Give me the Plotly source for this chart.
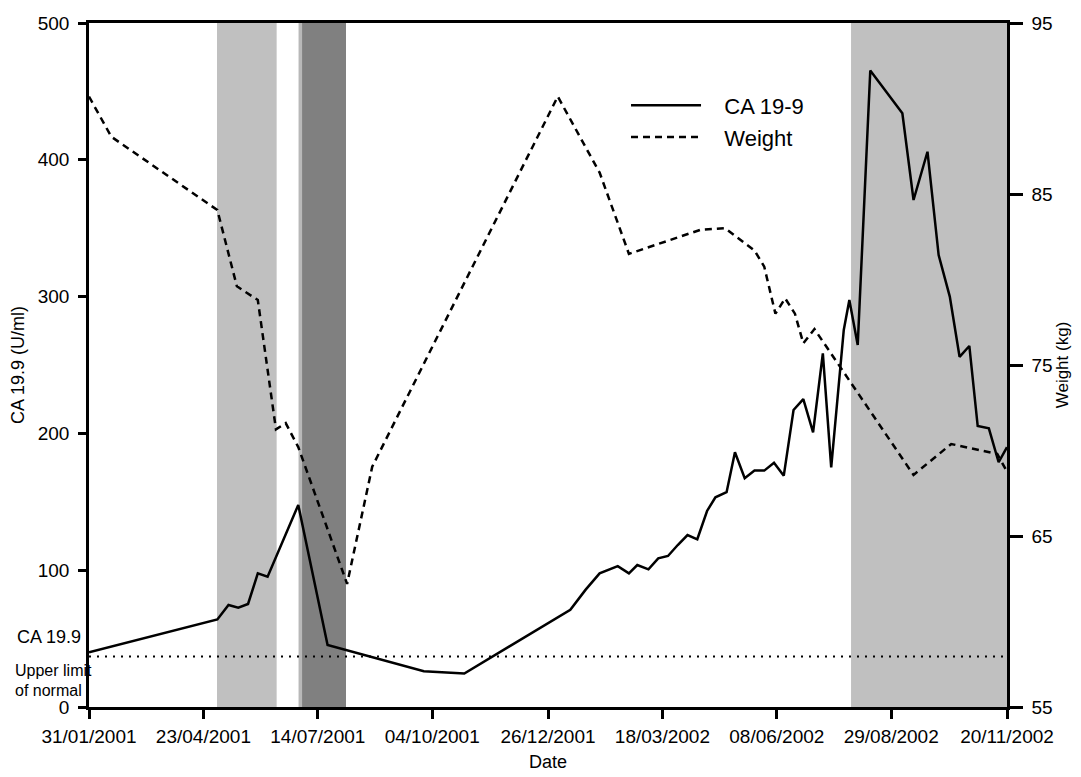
import plotly.graph_objects as go

# ---------------- data ----------------
ca_dates = ["2001-01-31", "2001-05-03", "2001-05-11", "2001-05-18", "2001-05-25",
            "2001-06-01", "2001-06-08", "2001-06-30", "2001-07-21", "2001-09-28",
            "2001-10-27", "2002-01-11", "2002-01-22", "2002-02-01", "2002-02-14",
            "2002-02-22", "2002-02-28", "2002-03-08", "2002-03-15", "2002-03-22",
            "2002-03-29", "2002-04-05", "2002-04-12", "2002-04-19", "2002-04-25",
            "2002-05-03", "2002-05-09", "2002-05-16", "2002-05-23", "2002-05-30",
            "2002-06-06", "2002-06-13", "2002-06-20", "2002-06-27", "2002-07-04",
            "2002-07-11", "2002-07-17", "2002-07-26", "2002-07-30", "2002-08-05",
            "2002-08-14", "2002-09-06", "2002-09-14", "2002-09-24", "2002-10-02",
            "2002-10-10", "2002-10-17", "2002-10-24", "2002-10-30", "2002-11-07",
            "2002-11-14", "2002-11-20"]
ca_values = [40, 64, 74.6, 72.6, 75.3,
             97.7, 95.3, 147.7, 45.3, 26.1,
             24.5, 71, 85.8, 97.7, 103,
             97.7, 103.8, 100.6, 108.7, 110.4,
             118.4, 125.7, 122.6, 143.3, 153.3,
             157, 186.2, 167.2, 172.8, 172.8,
             178.6, 169.1, 217.1, 225.1, 200.8,
             258.5, 175.2, 275.6, 297.5, 264.6,
             465.2, 434, 370.6, 405.9, 330.4,
             300, 256, 263.9, 205.4, 203.7,
             178.9, 189.9]

wt_dates = ["2001-01-31", "2001-02-16", "2001-05-03", "2001-05-17", "2001-06-01",
            "2001-06-14", "2001-06-21", "2001-06-30", "2001-08-04", "2001-08-22",
            "2002-01-02", "2002-02-01", "2002-02-22", "2002-04-14", "2002-05-02",
            "2002-05-23", "2002-05-30", "2002-06-07", "2002-06-14", "2002-06-21",
            "2002-06-27", "2002-07-05", "2002-09-14", "2002-10-11", "2002-11-13",
            "2002-11-20"]
wt_values = [90.7, 88.35, 84.06, 79.6, 78.8,
             71.24, 71.6, 70.2, 62.2, 69.05,
             90.7, 86.25, 81.5, 82.9, 83.0,
             81.7, 80.75, 78.0, 78.9, 78.0,
             76.27, 77.1, 68.57, 70.38, 69.8,
             68.76]

upper_limit = 37

tick_labels = ["31/01/2001", "23/04/2001", "14/07/2001", "04/10/2001", "26/12/2001",
               "18/03/2002", "08/06/2002", "29/08/2002", "20/11/2002"]
tick_dates = ["2001-01-31", "2001-04-23", "2001-07-14", "2001-10-04", "2001-12-26",
              "2002-03-18", "2002-06-08", "2002-08-29", "2002-11-20"]

band_starts = ["2001-05-02 18:00", "2001-06-30 05:00", "2001-07-02 17:00", "2002-07-31 05:00"]
band_ends = ["2001-06-14 12:00", "2001-07-02 17:00", "2001-08-03 05:00", "2002-11-20 00:00"]
band_colors = ["#c0c0c0", "#b8b8b8", "#808080", "#c0c0c0"]

left_ticks = [0, 100, 200, 300, 400, 500]
right_ticks = [55, 65, 75, 85, 95]

FONT = "Liberation Sans, Arial, Helvetica, sans-serif"
NB = "\u00a0"

# ---------------- figure ----------------
fig = go.Figure()

fig.add_trace(go.Scatter(
    x=ca_dates, y=ca_values, mode="lines", name=NB * 3 + "CA 19-9",
    line=dict(color="black", width=2.5), yaxis="y"))

fig.add_trace(go.Scatter(
    x=wt_dates, y=wt_values, mode="lines", name=NB * 3 + "Weight",
    line=dict(color="black", width=2.5, dash="7px,5px"), yaxis="y2"))

fig.add_trace(go.Scatter(
    x=[tick_dates[0], tick_dates[-1]], y=[upper_limit, upper_limit], mode="lines",
    showlegend=False, line=dict(color="black", width=2, dash="2px,6px"), yaxis="y"))

shapes = []
for s, e, c in zip(band_starts, band_ends, band_colors):
    shapes.append(dict(type="rect", xref="x", yref="paper", x0=s, x1=e, y0=0, y1=1,
                       fillcolor=c, line=dict(width=0), layer="below"))

annotations = [
    dict(text="CA 19.9", xref="paper", yref="y", x=-0.007, y=51, xanchor="right",
         yanchor="middle", showarrow=False, font=dict(size=18, family=FONT)),
    dict(text="Upper limit", xref="paper", yref="y", x=-0.0825, y=27, xanchor="left",
         yanchor="middle", showarrow=False, font=dict(size=16, family=FONT)),
    dict(text="of normal", xref="paper", yref="y", x=-0.0825, y=12, xanchor="left",
         yanchor="middle", showarrow=False, font=dict(size=16, family=FONT)),
]

fig.update_layout(
    width=1073, height=769,
    margin=dict(l=81, r=74, t=15, b=70, autoexpand=False),
    plot_bgcolor="white", paper_bgcolor="white",
    font=dict(family=FONT, color="black", size=19),
    shapes=shapes, annotations=annotations,
    showlegend=True,
    legend=dict(x=0.585, y=0.91, xanchor="left", yanchor="top",
                bgcolor="rgba(0,0,0,0)", borderwidth=0,
                font=dict(size=22, family=FONT), itemwidth=70,
                tracegroupgap=0),
    xaxis=dict(type="date", range=[tick_dates[0], tick_dates[-1]],
               tickvals=tick_dates, ticktext=tick_labels, tickangle=0,
               ticks="outside", ticklen=9, tickwidth=2.5, tickcolor="black",
               ticklabelstandoff=1,
               showline=True, linewidth=2.5, linecolor="black", mirror=True,
               showgrid=False, zeroline=False,
               tickfont=dict(size=19, family=FONT),
               title=dict(text="Date", font=dict(size=18, family=FONT), standoff=10)),
    yaxis=dict(range=[0, 500], tickvals=left_ticks,
               ticks="outside", ticklen=8, tickwidth=2.5, tickcolor="black",
               ticklabelstandoff=5,
               showline=True, linewidth=2.5, linecolor="black",
               showgrid=False, zeroline=False,
               tickfont=dict(size=19, family=FONT),
               title=dict(text="CA 19.9 (U/ml)", font=dict(size=18, family=FONT), standoff=12)),
    yaxis2=dict(range=[55, 95], tickvals=right_ticks, overlaying="y", side="right",
                ticks="outside", ticklen=13, tickwidth=2.5, tickcolor="black",
                ticklabelstandoff=5,
                showline=True, linewidth=2.5, linecolor="black",
                showgrid=False, zeroline=False,
                tickfont=dict(size=19, family=FONT),
                title=dict(text="Weight (kg)", font=dict(size=17, family=FONT), standoff=5)),
)

fig.write_html("out.html")
